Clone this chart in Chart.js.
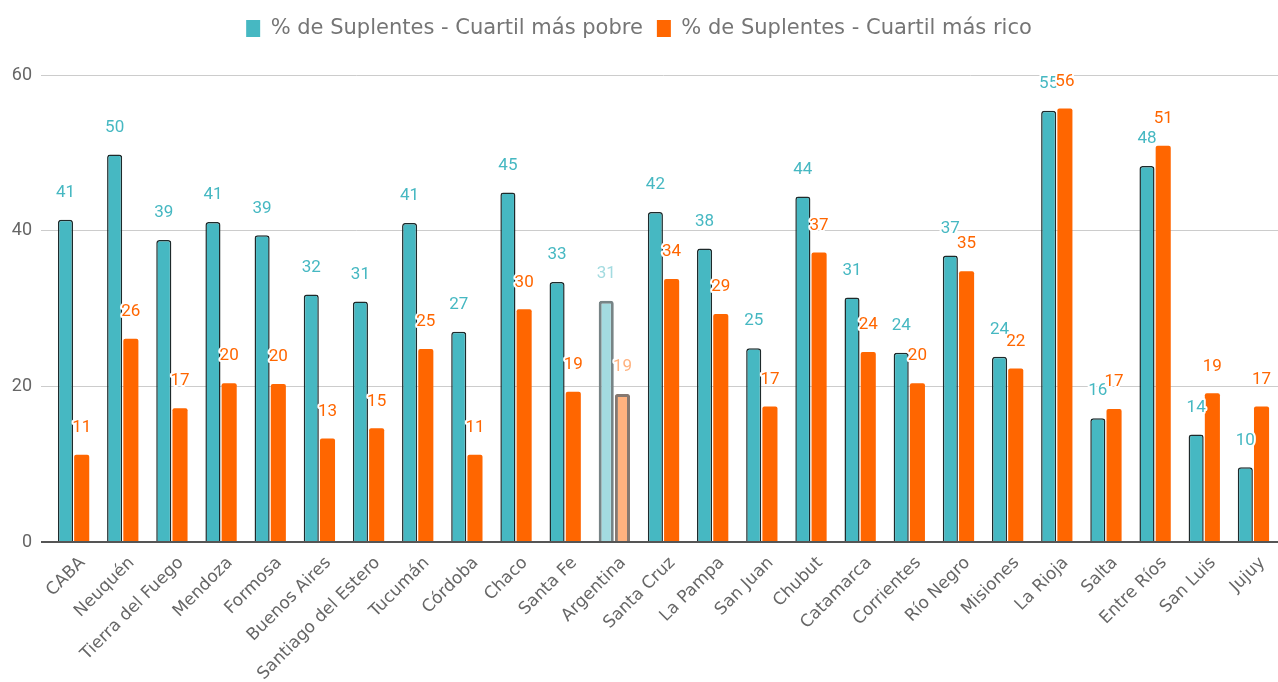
<!DOCTYPE html>
<html>
<head>
<meta charset="utf-8">
<script src="https://cdn.jsdelivr.net/npm/chart.js@4"></script>
<style>
  html, body { margin: 0; padding: 0; background: #fff; }
  #wrap { width: 1278px; height: 682px; }
</style>
</head>
<body>
<div id="wrap"><canvas id="barChart"></canvas></div>
<script>
// datos
const provincias = ['CABA', 'Neuquén', 'Tierra del Fuego', 'Mendoza', 'Formosa', 'Buenos Aires',
  'Santiago del Estero', 'Tucumán', 'Córdoba', 'Chaco', 'Santa Fe', 'Argentina', 'Santa Cruz',
  'La Pampa', 'San Juan', 'Chubut', 'Catamarca', 'Corrientes', 'Río Negro', 'Misiones',
  'La Rioja', 'Salta', 'Entre Ríos', 'San Luis', 'Jujuy'];
const cuartilPobre = [41.4, 49.8, 38.8, 41.1, 39.4, 31.8, 30.9, 41.0, 27.0, 44.9, 33.4, 31.0, 42.4,
  37.7, 24.9, 44.4, 31.4, 24.3, 36.8, 23.8, 55.4, 15.9, 48.3, 13.8, 9.6];
const cuartilRico = [11.2, 26.1, 17.2, 20.4, 20.3, 13.3, 14.6, 24.8, 11.2, 29.9, 19.3, 19.0, 33.8,
  29.3, 17.4, 37.2, 24.4, 20.4, 34.8, 22.3, 55.7, 17.1, 50.9, 19.1, 17.4];
const yTicks = [0, 20, 40, 60];

const TEAL = '#46b8c2';
const ORANGE = '#ff6600';
const esPais = i => provincias[i] === 'Argentina';

// etiquetas de valor encima de cada barra
const valueLabels = {
  id: 'valueLabels',
  start(chart) {
    // deja mas aire entre la leyenda y el grafico
    const lg = chart.legend;
    if (lg && !lg._fitPatched) {
      const fit = lg.fit.bind(lg);
      lg.fit = function () { fit(); this.height += 26; };
      lg._fitPatched = true;
    }
  },
  beforeInit(chart) { this.start(chart); },
  afterDatasetsDraw(chart) {
    const ctx = chart.ctx;
    ctx.save();
    ctx.font = '17px Roboto';
    ctx.textAlign = 'center';
    ctx.textBaseline = 'middle';
    ctx.lineJoin = 'round';
    ctx.lineWidth = 4;
    ctx.strokeStyle = '#fff';
    chart.data.datasets.forEach((ds, di) => {
      chart.getDatasetMeta(di).data.forEach((bar, i) => {
        const txt = String(Math.round(ds.data[i]));
        const y = bar.y - 27;
        ctx.strokeText(txt, bar.x, y);
        ctx.fillStyle = esPais(i) ? ds.labelSoft : ds.labelColor;
        ctx.fillText(txt, bar.x, y);
      });
    });
    ctx.restore();
  }
};

const ctx = document.getElementById('barChart').getContext('2d');
new Chart(ctx, {
  type: 'bar',
  data: {
    labels: provincias,
    datasets: [{
      label: '% de Suplentes - Cuartil más pobre',
      data: cuartilPobre,
      backgroundColor: c => esPais(c.dataIndex) ? '#a3dbe0' : TEAL,
      borderColor: c => esPais(c.dataIndex) ? '#778486' : '#1e2a2b',
      borderWidth: c => esPais(c.dataIndex) ? 3 : 1.5,
      borderRadius: 3,
      labelColor: TEAL,
      labelSoft: '#a3dbe0'
    }, {
      label: '% de Suplentes - Cuartil más rico',
      data: cuartilRico,
      backgroundColor: c => esPais(c.dataIndex) ? '#ffb27f' : ORANGE,
      borderColor: c => esPais(c.dataIndex) ? '#857870' : ORANGE,
      borderWidth: c => esPais(c.dataIndex) ? 3 : 0,
      borderRadius: 2,
      labelColor: ORANGE,
      labelSoft: '#ffb27f'
    }]
  },
  options: {
    responsive: true,
    maintainAspectRatio: false,
    animation: false,
    categoryPercentage: 0.66,
    barPercentage: 0.93,
    layout: { padding: { top: 4, right: 0, left: 0, bottom: 0 } },
    plugins: {
      legend: {
        position: 'top',
        labels: {
          font: { family: 'DejaVu Sans', size: 21 },
          color: '#757575',
          boxWidth: 14,
          boxHeight: 17,
          padding: 14,
          generateLabels: chart => chart.data.datasets.map((ds, i) => ({
            text: ds.label,
            fillStyle: i === 0 ? TEAL : ORANGE,
            strokeStyle: i === 0 ? TEAL : ORANGE,
            lineWidth: 0,
            fontColor: '#757575',
            datasetIndex: i
          }))
        }
      },
      tooltip: { enabled: false }
    },
    scales: {
      x: {
        grid: { display: false },
        border: { display: false },
        ticks: {
          font: { family: 'DejaVu Sans', size: 17 },
          color: '#666',
          minRotation: 45,
          maxRotation: 45,
          autoSkip: false,
          labelOffset: 9
        },
        afterFit: s => { s.height = 140; }
      },
      y: {
        min: 0,
        max: 60,
        afterBuildTicks: s => { s.ticks = yTicks.map(v => ({ value: v })); },
        border: { display: false },
        grid: {
          color: c => c.tick && c.tick.value === 0 ? '#555' : '#cccccc',
          lineWidth: c => c.tick && c.tick.value === 0 ? 2 : 1,
          tickLength: 8
        },
        ticks: {
          font: { family: 'Roboto', size: 18 },
          color: '#666',
          padding: 9
        },
        afterFit: s => { s.width = 49; }
      }
    }
  },
  plugins: [valueLabels]
});
</script>
</body>
</html>
